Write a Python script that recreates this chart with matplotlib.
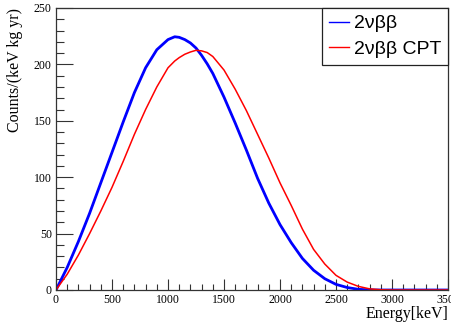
import matplotlib
matplotlib.use("Agg")
import matplotlib.pyplot as plt
from matplotlib.ticker import MultipleLocator

# Energy grid (keV)
energy = [0, 100, 200, 300, 400, 500, 600, 700, 800, 900, 1000, 1060, 1100, 1150, 1200,
          1250, 1300, 1350, 1400, 1500, 1600, 1700, 1800, 1900, 2000, 2100, 2200, 2300,
          2400, 2500, 2600, 2700, 2800, 2900, 3000, 3100, 3200, 3300, 3400, 3500]

# 2vbb spectrum (blue)
counts_2vbb = [0, 20, 43, 68, 95, 122, 149, 175, 197, 213, 222, 224.5, 224, 222, 219,
               214.5, 208, 200.5, 192, 171, 148, 124, 99, 77, 58, 42, 28, 17.5,
               10, 5, 2.2, 0.6, 0.1, 0, 0, 0, 0, 0, 0, 0]

# 2vbb CPT spectrum (red)
counts_cpt = [0, 14, 31, 50, 70, 91, 114, 138, 160, 180, 197, 203, 206, 209, 211,
              212.5, 212, 210.5, 207, 195, 178, 159, 138, 117, 95, 75, 54, 36,
              23, 13, 7, 3.2, 1, 0.2, 0, 0, 0, 0, 0, 0]

x_ticks = [0, 500, 1000, 1500, 2000, 2500, 3000, 3500]
y_ticks = [0, 50, 100, 150, 200, 250]

fig = plt.figure(figsize=(4.52, 3.24), dpi=100)
ax = fig.add_axes([56/452, 34/324, 392/452, 282/324])

ax.plot(energy, counts_2vbb, color="#0000ff", lw=2.0, label="2νββ")
ax.plot(energy, counts_cpt, color="#ff0000", lw=1.1, label="2νββ CPT")

ax.set_xlim(0, 3500)
ax.set_ylim(0, 250)
ax.set_xticks(x_ticks)
ax.set_yticks(y_ticks)
ax.xaxis.set_minor_locator(MultipleLocator(100))
ax.yaxis.set_minor_locator(MultipleLocator(10))

serif = "Liberation Serif"
ax.tick_params(axis="x", which="major", direction="in", length=8, width=0.8, pad=3,
               labelsize=8.5, colors="#333333", labelcolor="black")
ax.tick_params(axis="x", which="minor", direction="in", length=4, width=0.8, colors="#333333")
ax.tick_params(axis="y", which="major", direction="in", length=12, width=0.8, pad=3,
               labelsize=8.5, colors="#333333", labelcolor="black")
ax.tick_params(axis="y", which="minor", direction="in", length=6, width=0.8, colors="#333333")
for lab in ax.get_xticklabels() + ax.get_yticklabels():
    lab.set_fontfamily(serif)

for s in ax.spines.values():
    s.set_color("#333333")
    s.set_linewidth(0.9)

ax.set_xlabel("Energy[keV]", fontfamily=serif, fontsize=11.5, loc="right", labelpad=0)
ax.set_ylabel("Counts/(keV kg yr)", fontfamily=serif, fontsize=11.5, loc="top", labelpad=8)

leg = ax.legend(loc="upper right", bbox_to_anchor=(1, 1), borderaxespad=0,
                frameon=True, fancybox=False, edgecolor="#222222", framealpha=1,
                prop={"family": "Liberation Sans", "size": 14},
                handlelength=1.05, handletextpad=0.25, borderpad=0.35, labelspacing=0.4)
leg.get_frame().set_linewidth(0.9)
for line in leg.get_lines():
    line.set_linewidth(1.0)

fig.savefig("out.png", dpi=100, facecolor="white")
